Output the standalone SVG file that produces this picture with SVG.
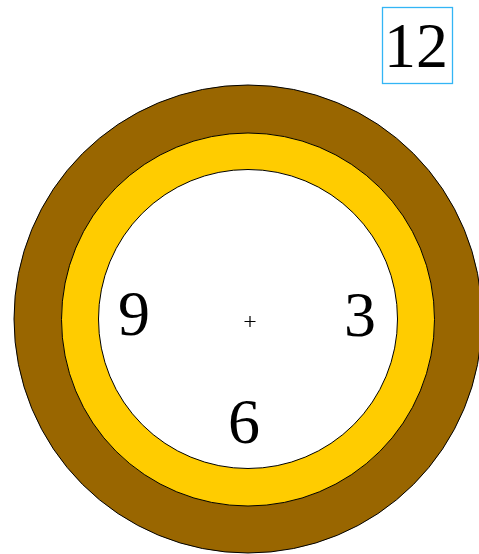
<svg xmlns="http://www.w3.org/2000/svg" width="479" height="554" viewBox="0 0 479 554">
<style>
.ring{stroke:#000;stroke-width:1}
.num{font-family:"Liberation Serif","Times New Roman",serif;font-size:64px;fill:#000;text-anchor:middle}
</style>
<rect width="479" height="554" fill="#fff"/>
<g id="outer"><circle class="ring" cx="248" cy="319" r="234" fill="#996600"/></g>
<g id="middle"><circle class="ring" cx="248" cy="319.5" r="186.5" fill="#ffcc00"/></g>
<g id="inner"><circle class="ring" cx="248" cy="319" r="149.5" fill="#fff"/></g>
<g id="center"><path d="M244.5 321.5h11M250 316v11" stroke="#000" stroke-width="1.2" fill="none"/></g>
<g id="n12"><rect x="382.5" y="7.5" width="70" height="76" fill="#fff" stroke="#33b5f5" stroke-width="1.3"/><text class="num" x="416" y="67">12</text></g>
<g id="n9"><text class="num" x="134" y="335">9</text></g>
<g id="n3"><text class="num" x="360" y="336">3</text></g>
<g id="n6"><text class="num" x="244" y="443">6</text></g>
</svg>
